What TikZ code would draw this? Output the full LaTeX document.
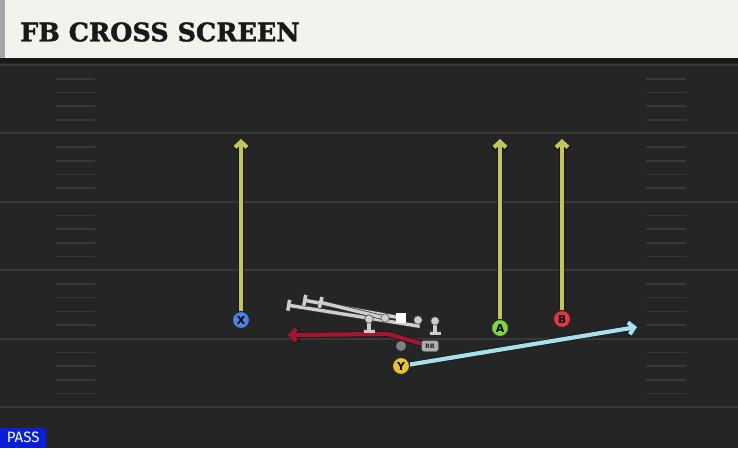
\documentclass[tikz,border=0pt]{standalone}
\usepackage{fontspec}
\setmainfont{DejaVu Sans}
\newfontfamily\titlefont{DejaVu Serif}[BoldFeatures={FakeBold=1.6}]
\newfontfamily\tagfont{Fira Sans}
\usetikzlibrary{arrows.meta,positioning}
\definecolor{fieldgray}{RGB}{37,37,37}
\definecolor{yardgray}{RGB}{56,56,56}
\definecolor{headcream}{RGB}{244,242,236}
\definecolor{routeyellow}{RGB}{196,196,92}
\definecolor{routeblue}{RGB}{166,224,238}
\definecolor{routered}{RGB}{165,22,46}
\definecolor{blockgray}{RGB}{206,206,206}
\definecolor{playblue}{RGB}{76,130,228}
\definecolor{playgreen}{RGB}{124,214,70}
\definecolor{playred}{RGB}{226,56,62}
\definecolor{playyellow}{RGB}{234,194,50}
\definecolor{passblue}{RGB}{10,30,216}
\pgfdeclarelayer{field}
\pgfdeclarelayer{paths}
\pgfsetlayers{field,paths,main}

\begin{document}
\begin{tikzpicture}[
    x=1pt, y=-1pt,
    player/.style={circle, draw=black!85, line width=1pt, minimum size=17pt, inner sep=0pt, font=\bfseries\fontsize{11}{11}\selectfont},
    lineman/.style={circle, fill=blockgray, draw=black!70, line width=0.6pt, minimum size=8.5pt, inner sep=0pt},
    route/.style={line width=4.2pt, -{Straight Barb[length=5.5pt,width=12pt]}, preaction={draw=black!90, line width=5.8pt, -{Straight Barb[length=6pt,width=13.5pt]}}},
    blockline/.style={line width=3.4pt, draw=blockgray, -{Bar[width=11pt]}, preaction={draw=black!80, line width=4.8pt, -{Bar[width=12pt]}}},
    yard/.style={draw=yardgray, line width=2pt},
    hash/.style={draw=yardgray, line width=1.6pt}
]
    \useasboundingbox (0,0) rectangle (738,448);

    % Field and header
    \begin{pgfonlayer}{field}
        \fill[fieldgray] (0,58) rectangle (738,448);
        \fill[black!90] (0,58) rectangle (738,63);
        \fill[headcream] (0,0) rectangle (738,58);
        \fill[black!35] (0,0) rectangle (5,58);
        \foreach \y in {65,133.4,201.8,270.2,338.6,407}
            \draw[yard] (0,\y) -- (738,\y);
        \foreach \y in {65,133.4,201.8,270.2,338.6} {
            \foreach \k in {1,...,4} {
                \draw[hash] (56,\y+13.7*\k) -- (95,\y+13.7*\k);
                \draw[hash] (646,\y+13.7*\k) -- (686,\y+13.7*\k);
            }
        }
    \end{pgfonlayer}

    \node[anchor=west, inner sep=0pt, text=black!90, font=\titlefont\bfseries\fontsize{25.5}{25.5}\selectfont] (title) at (20,32) {FB CROSS SCREEN};
    \node[anchor=south west, fill=passblue, text=white, inner sep=0pt, minimum width=46pt, minimum height=20pt, font=\tagfont\fontsize{15}{15}\selectfont] (pass) at (0,448) {PASS};

    % Line and backfield
    \node[lineman] (lg) at (369,319) {};
    \node[lineman] (lc) at (385,318) {};
    \node[fill=white, minimum size=10pt, inner sep=0pt] (ctr) at (401,318) {};
    \node[lineman] (rg) at (418,320) {};
    \node[lineman] (rt) at (435,321) {};
    \node[circle, fill=black!50, minimum size=10pt, inner sep=0pt] (qb) at (401,346) {};
    \node[rounded corners=2.5pt, fill=black!32, draw=black!75, text=black!85, minimum width=17pt, minimum height=11pt, inner sep=0pt, font=\bfseries\fontsize{6}{6}\selectfont] (RB) at (430,346) {RB};

    % Receivers
    \node[player, fill=playblue] (X) at (241,320) {X};
    \node[player, fill=playgreen] (A) at (500,328) {A};
    \node[player, fill=playred] (B) at (562,319) {B};
    \node[player, fill=playyellow] (Y) at (401,366) {Y};

    % Route ends
    \coordinate (xend) at (241,139);
    \coordinate (aend) at (500,139);
    \coordinate (bend) at (562,139);
    \coordinate (yend) at (637,327);
    \coordinate (rbturn) at (388,334);
    \coordinate (rbend) at (288,335);
    \coordinate (lgend) at (369,333);
    \coordinate (rtend) at (435,335);
    \coordinate (rgturn) at (418,326);
    \coordinate (rgend) at (287,305);
    \coordinate (ctrend) at (303,300);
    \coordinate (lcend) at (319,302);

    % Routes
    \begin{pgfonlayer}{paths}
        \draw[route, draw=routeyellow] (X) -- (xend);
        \draw[route, draw=routeyellow] (A) -- (aend);
        \draw[route, draw=routeyellow] (B) -- (bend);
        \draw[route, draw=routeblue] (Y) -- (yend);
        \draw[route, draw=routered] (RB) -- (rbturn) -- (rbend);

        % Blocks
        \draw[blockline] (lg.center) -- (lgend);
        \draw[blockline] (rt.center) -- (rtend);
        \draw[blockline] (rg.center) -- (rgturn) -- (rgend);
        \draw[blockline] (ctr.center) -- (ctrend);
        \draw[blockline] (lc.center) -- (lcend);
    \end{pgfonlayer}
\end{tikzpicture}
\end{document}
